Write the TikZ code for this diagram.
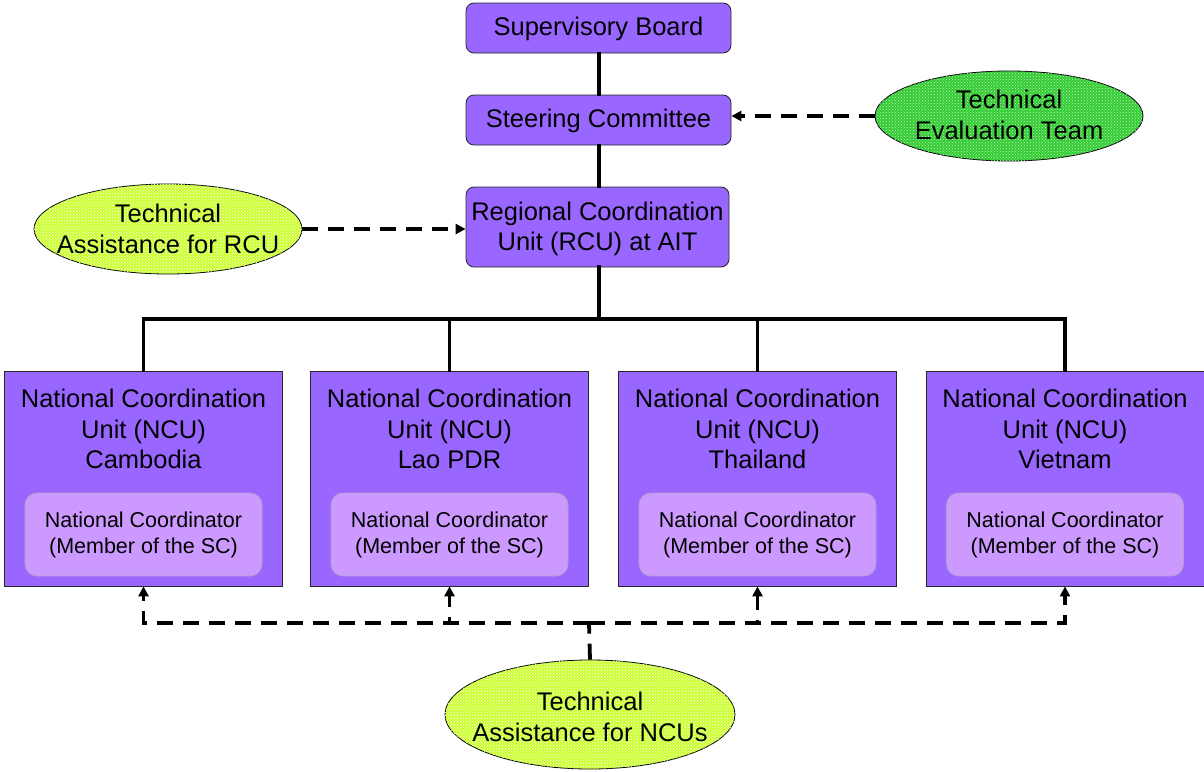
\documentclass[tikz,border=0pt]{standalone}
\usepackage{fontspec}
\setmainfont{Liberation Sans}
\usetikzlibrary{arrows.meta,shapes.geometric,patterns}
\definecolor{boxpurple}{HTML}{9966FF}
\definecolor{innerpurple}{HTML}{CC99FF}
\definecolor{innerborder}{HTML}{B0A0C8}
\definecolor{evalgreen}{HTML}{33CC33}
\definecolor{assistyellow}{HTML}{CCFF33}
\begin{document}
\begin{tikzpicture}[x=1pt,y=-1pt,
  bigfont/.style={font=\fontsize{25.5}{30.5}\selectfont},
  topbox/.style={draw=black!85, line width=0.8pt, fill=boxpurple, rounded corners=8pt,
    minimum width=265pt, minimum height=50pt, align=center, inner sep=0pt, bigfont},
  ncubox/.style={draw=black!85, line width=0.8pt, fill=boxpurple,
    minimum width=278pt, minimum height=215pt, inner sep=0pt},
  label text/.style={align=center, inner sep=0pt, bigfont},
  innerbox/.style={draw=innerborder, line width=0.8pt, fill=innerpurple, rounded corners=12pt,
    minimum width=237pt, minimum height=83pt, align=center, inner sep=0pt,
    font=\fontsize{21.5}{26}\selectfont},
  ell/.style={ellipse, draw=black, line width=0.8pt, inner sep=0pt},
  assist/.style={ell, fill=assistyellow, postaction={pattern=crosshatch dots, pattern color=white}},
  evalell/.style={ell, fill=evalgreen, postaction={pattern=crosshatch dots, pattern color=white!70!evalgreen}},
  tree/.style={line width=3.6pt, line cap=rect},
  dashline/.style={line width=3.8pt, dash pattern=on 16pt off 10pt},
  tip/.style={-{Triangle[length=10pt,width=10pt]}}
]
\useasboundingbox (0,0) rectangle (1204,771);

% top chain
\node[topbox] (sb) at (598.5,28) {};
\node[label text] at (598.5,29) {Supervisory Board};
\node[topbox] (sc) at (598.5,120) {};
\node[label text] at (598.5,121) {Steering Committee};
\node[topbox, minimum width=263pt, minimum height=80pt] (rcu) at (597.5,227) {};
\node[label text] at (597.5,229) {Regional Coordination\\Unit (RCU) at AIT};

% ellipses
\node[evalell, minimum width=268pt, minimum height=90pt] (te) at (1009,116) {};
\node[label text] at (1009,115) {Technical\\Evaluation Team};
\node[assist, minimum width=268pt, minimum height=90pt] (tr) at (168,229) {};
\node[label text] at (168,229) {Technical\\Assistance for RCU};

% NCU boxes
\node[ncubox] (n1) at (143.5,478.5) {};
\node[ncubox] (n2) at (449.5,478.5) {};
\node[ncubox] (n3) at (757.5,478.5) {};
\node[ncubox] (n4) at (1065,478.5) {};

\node[label text] (t1) at (143.5,429) {National Coordination\\Unit (NCU)\\Cambodia};
\node[label text] (t2) at (449.5,429) {National Coordination\\Unit (NCU)\\Lao PDR};
\node[label text] (t3) at (757.5,429) {National Coordination\\Unit (NCU)\\Thailand};
\node[label text] (t4) at (1065,429) {National Coordination\\Unit (NCU)\\Vietnam};

\node[innerbox] (c1) at (143.5,534.5) {National Coordinator\\(Member of the SC)};
\node[innerbox] (c2) at (449.5,534.5) {National Coordinator\\(Member of the SC)};
\node[innerbox] (c3) at (757.5,534.5) {National Coordinator\\(Member of the SC)};
\node[innerbox] (c4) at (1065,534.5) {National Coordinator\\(Member of the SC)};

\node[assist, minimum width=290pt, minimum height=109pt] (tn) at (590,714.5) {};
\node[label text] at (590,717) {Technical\\Assistance for NCUs};

% solid tree
\coordinate (bus) at (599,319);
\draw[tree] (sb.south -| bus) -- (sc.north -| bus);
\draw[tree] (sc.south -| bus) -- (rcu.north -| bus);
\draw[tree, line width=4.6pt] (rcu.south -| bus) -- (bus);
\draw[tree] (bus) -| (n1.north);
\draw[tree] (bus) -| (n2.north);
\draw[tree] (bus) -| (n3.north);
\draw[tree] (bus) -| (n4.north);

% dashed arrows
\draw[dashline, tip] (te.west) -- (te.west -| sc.east);
\draw[dashline, tip] (tr.east) -- (tr.east -| rcu.west);

\coordinate (hub) at (589,623);
\draw[dashline] (tn.north) -- (hub);
\draw[dashline, tip] (hub) -| (n1.south);
\draw[dashline, tip] (hub) -| (n2.south);
\draw[dashline, tip] (hub) -| (n3.south);
\draw[dashline, tip] (hub) -| (n4.south);
\end{tikzpicture}
\end{document}
